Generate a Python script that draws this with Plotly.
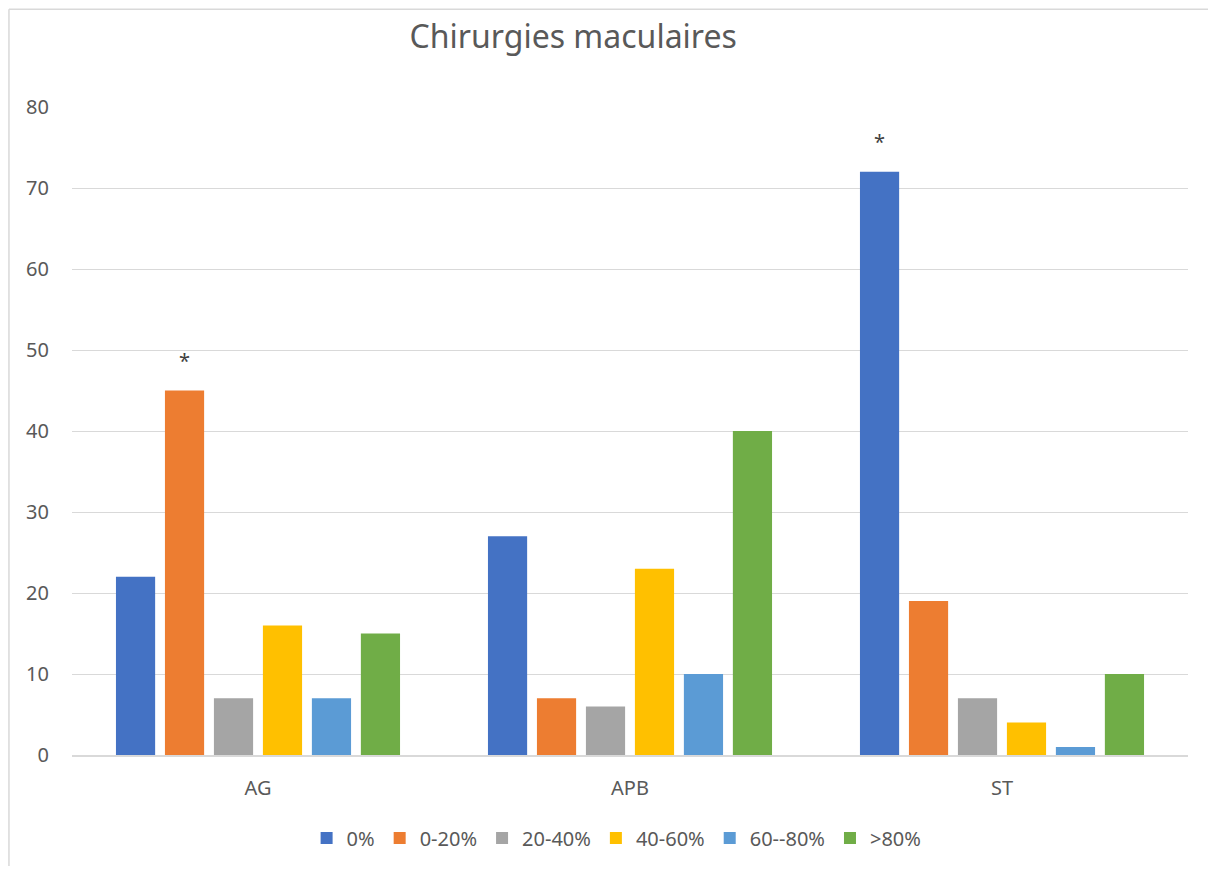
import plotly.graph_objects as go

categories = ["AG", "APB", "ST"]
series_names = ["0%", "0-20%", "20-40%", "40-60%", "60--80%", ">80%"]
values = [
    [22, 27, 72],
    [45, 7, 19],
    [7, 6, 7],
    [16, 23, 4],
    [7, 10, 1],
    [15, 40, 10],
]
colors = ["#4472C4", "#ED7D31", "#A5A5A5", "#FFC000", "#5B9BD5", "#70AD47"]
y_ticks = [0, 10, 20, 30, 40, 50, 60, 70, 80]

# significance marks: (series index, category)
stars = [(1, "AG"), (0, "ST")]

font = "Noto Sans"
grey = "#595959"

fig = go.Figure()
for name, vals, col in zip(series_names, values, colors):
    fig.add_trace(go.Bar(x=categories, y=vals, name=name, marker_color=col,
                         marker_line_width=0))

slot = 49
for idx, cat in stars:
    fig.add_annotation(x=cat, y=values[idx][categories.index(cat)], text="*",
                       showarrow=False, xshift=(idx - 2.5) * slot, yshift=30,
                       font=dict(family=font, size=20, color="#404040"))

# outer chart border: only left and top edges are in the picture
border = dict(color="#d9d9d9", width=1.5)
fig.add_shape(type="line", xref="paper", yref="paper", x0=-0.0565, x1=-0.0565,
              y0=-0.2, y1=1.151, line=border, layer="below")
fig.add_shape(type="line", xref="paper", yref="paper", x0=-0.0565, x1=1.02,
              y0=1.151, y1=1.151, line=border, layer="below")

fig.update_layout(
    width=1200, height=858,
    margin=dict(l=64, r=20, t=99, b=111, autoexpand=False),
    paper_bgcolor="white", plot_bgcolor="white",
    barmode="group", bargap=0.21, bargroupgap=0.2,
    title=dict(text="Chirurgies maculaires", x=0.471, xref="container",
               xanchor="center", y=0.966, yanchor="middle",
               font=dict(family=font, size=32, color=grey)),
    font=dict(family=font, size=20, color=grey),
    showlegend=True,
    legend=dict(orientation="h", x=0.488, xanchor="center",
                y=-0.128, yanchor="middle", font=dict(size=20, color=grey),
                itemwidth=30, tracegroupgap=0),
)
fig.update_yaxes(range=[0, 80], tickvals=y_ticks, showgrid=True,
                 gridcolor="#d9d9d9", gridwidth=1, zeroline=False,
                 showline=False, ticks="", ticklabelstandoff=22,
                 tickfont=dict(size=20, color=grey))
fig.update_xaxes(showline=True, linecolor="#d9d9d9", linewidth=1.5, ticks="",
                 ticklabelstandoff=14, tickfont=dict(size=20, color=grey))

fig.write_html("out.html")
